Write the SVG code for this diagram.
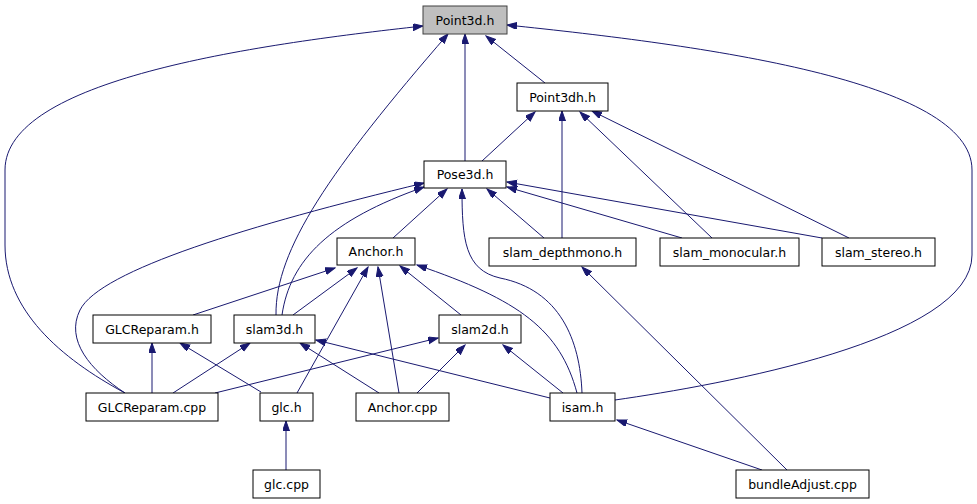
<svg xmlns="http://www.w3.org/2000/svg" width="977" height="504" viewBox="0 0 977 504">
<defs>
<marker id="ah" markerUnits="userSpaceOnUse" markerWidth="11" markerHeight="8" refX="10" refY="3.5" orient="auto">
<path d="M0,0 L10,3.5 L0,7 z" fill="#191970" stroke="#191970" stroke-width="1"/>
</marker>
</defs>
<style>
.n rect{fill:#ffffff;stroke:#000000;stroke-width:1}
.n.root rect{fill:#bfbfbf;stroke:#404040}
.n text{font-family:"DejaVu Sans",sans-serif;font-size:12.5px;text-anchor:middle;fill:#000000}
.e path{fill:none;stroke:#191970;stroke-width:1;marker-end:url(#ah)}
</style>
<rect width="977" height="504" fill="#ffffff"/>
<g id="edges" class="e">
<path d="M125,393 C60,358 5,310 5,245 L5,170 C5,80 250,45 423,26"/>
<path d="M615,400 C720,385 972,340 972,255 L972,170 C972,80 700,45 507,25"/>
<path d="M465,161 L465,34"/>
<path d="M545,83 L486,36"/>
<path d="M276,315 C275,250 330,170 448,34"/>
<path d="M482,161 L535,112"/>
<path d="M562,238 L562,111"/>
<path d="M712,238 L580,112"/>
<path d="M849,238 L592,111"/>
<path d="M393,238 L447,189"/>
<path d="M544,238 L487,189"/>
<path d="M682,238 L507,187"/>
<path d="M822,238 L507,182"/>
<path d="M125,393 C90,370 65,340 80,310 C100,270 250,225 424,183"/>
<path d="M282,315 C290,260 330,220 424,187"/>
<path d="M582,393 C580,340 560,290 500,278 C465,270 462,240 462,189"/>
<path d="M193,315 L335,268"/>
<path d="M293,315 L357,268"/>
<path d="M297,393 L368,267"/>
<path d="M399,393 L378,267"/>
<path d="M461,315 L400,266"/>
<path d="M577,393 C560,330 520,300 417,265"/>
<path d="M173,393 L250,343"/>
<path d="M379,393 L300,343"/>
<path d="M550,398 L316,340"/>
<path d="M152,393 L152,343"/>
<path d="M261,392 L180,343"/>
<path d="M215,393 L438,338"/>
<path d="M417,393 L465,345"/>
<path d="M563,393 L503,345"/>
<path d="M286,470 L286,421"/>
<path d="M762,470 L617,420"/>
<path d="M787,470 L582,267"/>
</g>
<g id="Point3d_h" class="n root"><rect x="423" y="6" width="84" height="28"/><text x="465" y="24.5">Point3d.h</text></g>
<g id="Point3dh_h" class="n"><rect x="517" y="83" width="91" height="28"/><text x="562.5" y="101.5">Point3dh.h</text></g>
<g id="Pose3d_h" class="n"><rect x="424" y="161" width="82" height="27"/><text x="465" y="179">Pose3d.h</text></g>
<g id="Anchor_h" class="n"><rect x="337" y="238" width="78" height="27"/><text x="376" y="256">Anchor.h</text></g>
<g id="slam_depthmono_h" class="n"><rect x="489" y="238" width="147" height="28"/><text x="562.5" y="256.5">slam_depthmono.h</text></g>
<g id="slam_monocular_h" class="n"><rect x="660" y="238" width="139" height="28"/><text x="729.5" y="256.5">slam_monocular.h</text></g>
<g id="slam_stereo_h" class="n"><rect x="822" y="238" width="113" height="28"/><text x="878.5" y="256.5">slam_stereo.h</text></g>
<g id="GLCReparam_h" class="n"><rect x="93" y="315" width="118" height="28"/><text x="152" y="333.5">GLCReparam.h</text></g>
<g id="slam3d_h" class="n"><rect x="234" y="315" width="81" height="28"/><text x="274.5" y="333.5">slam3d.h</text></g>
<g id="slam2d_h" class="n"><rect x="439" y="315" width="82" height="28"/><text x="480" y="333.5">slam2d.h</text></g>
<g id="GLCReparam_cpp" class="n"><rect x="86" y="393" width="132" height="28"/><text x="152" y="411.5">GLCReparam.cpp</text></g>
<g id="glc_h" class="n"><rect x="260" y="393" width="53" height="28"/><text x="286.5" y="411.5">glc.h</text></g>
<g id="Anchor_cpp" class="n"><rect x="356" y="393" width="93" height="28"/><text x="402.5" y="411.5">Anchor.cpp</text></g>
<g id="isam_h" class="n"><rect x="550" y="393" width="65" height="28"/><text x="582.5" y="411.5">isam.h</text></g>
<g id="glc_cpp" class="n"><rect x="253" y="470" width="67" height="28"/><text x="286.5" y="488.5">glc.cpp</text></g>
<g id="bundleAdjust_cpp" class="n"><rect x="736" y="470" width="133" height="28"/><text x="802.5" y="488.5">bundleAdjust.cpp</text></g>
</svg>
